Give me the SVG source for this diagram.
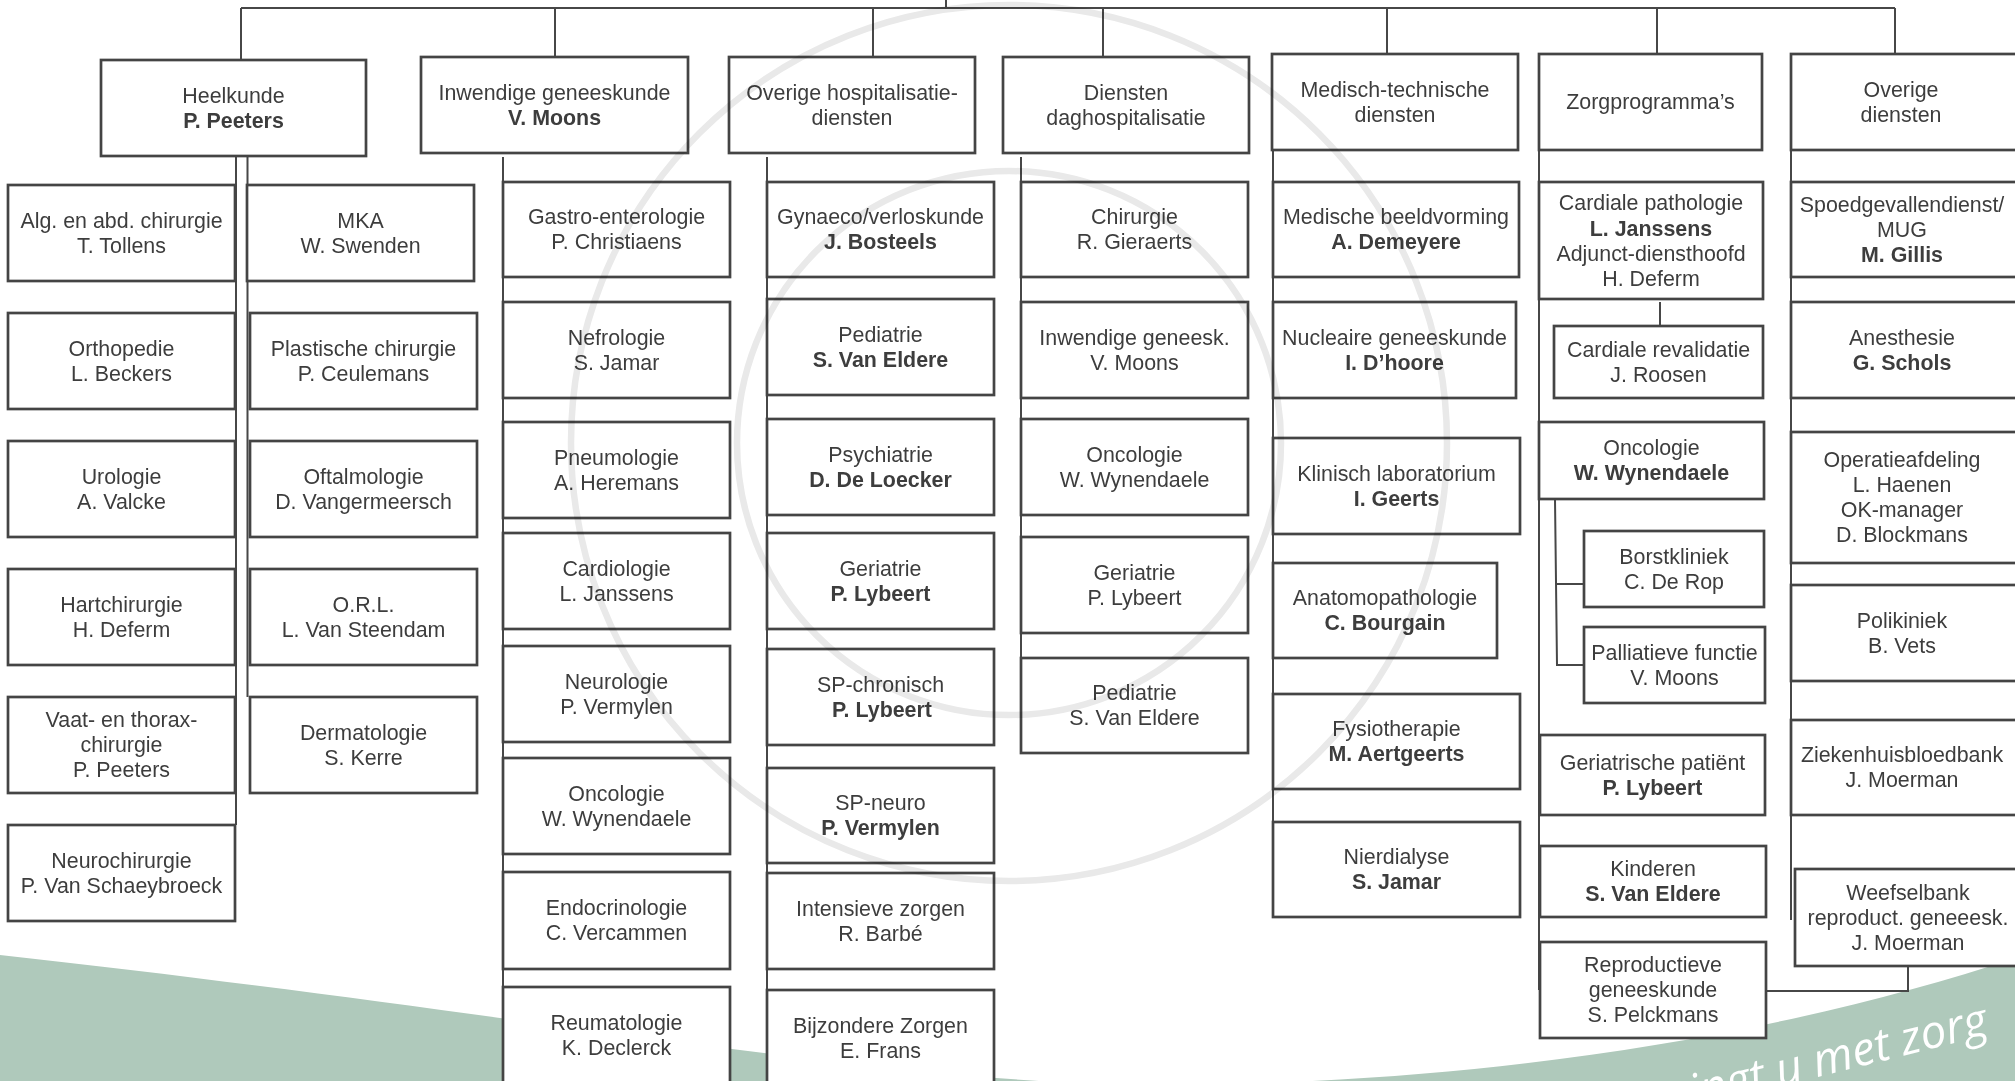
<svg xmlns="http://www.w3.org/2000/svg" width="2015" height="1081" viewBox="0 0 2015 1081">
<style>
.b{fill:#fff;stroke:#444;stroke-width:2.7}
.t{font-family:"Liberation Sans",Arial,sans-serif;font-size:21.4px;fill:#3d3d3d;text-anchor:middle}
.bd{font-weight:bold}
.c{fill:none;stroke:#474747;stroke-width:2}
.wm{fill:none;stroke:#e9e9e9;stroke-width:6.5;mix-blend-mode:multiply}
</style>
<rect x="0" y="0" width="2015" height="1081" fill="#fff"/>
<g id="background">
<path d="M0,955 C500,1010 900,1085 1150,1085 C1500,1085 1800,1030 2015,958 L2015,1081 L0,1081 Z" fill="#afc9bb"/>
<text x="1990" y="1034" transform="rotate(-14 1990 1034)" style="font-family:'Open Sans','Liberation Sans',sans-serif;font-size:46px;font-style:italic;fill:#fff;text-anchor:end">omringt u met zorg</text>
</g>
<g id="connectors">
<path class="c" d="M946,0V8M241,8H1895M241,8V60M555,8V57M873,8V57M1103,8V57M1387,8V54M1657,8V54M1895,8V54"/>
<path class="c" d="M236,156V825M247.5,156V697"/>
<path class="c" d="M503,157V1081M767,157V1081M1021,157V705M1273,150V870M1539,150V990M1791,150V920"/>
<path class="c" d="M1660,302V326M1555,499L1557,665H1584M1556,584H1584M1908,966V991H1766"/>
</g>
<g id="n-heelkunde"><rect class="b" x="101" y="60" width="265" height="96"/><text class="t"><tspan x="233.5" y="102.9">Heelkunde</tspan><tspan class="bd" x="233.5" y="127.9">P. Peeters</tspan></text></g>
<g id="n-inwendige"><rect class="b" x="421" y="57" width="267" height="96"/><text class="t"><tspan x="554.5" y="99.9">Inwendige geneeskunde</tspan><tspan class="bd" x="554.5" y="124.9">V. Moons</tspan></text></g>
<g id="n-overige-hosp"><rect class="b" x="729" y="57" width="246" height="96"/><text class="t"><tspan x="852" y="99.9">Overige hospitalisatie-</tspan><tspan x="852" y="124.9">diensten</tspan></text></g>
<g id="n-dagh"><rect class="b" x="1003" y="57" width="246" height="96"/><text class="t"><tspan x="1126" y="99.9">Diensten</tspan><tspan x="1126" y="124.9">daghospitalisatie</tspan></text></g>
<g id="n-medtech"><rect class="b" x="1272" y="54" width="246" height="96"/><text class="t"><tspan x="1395" y="96.9">Medisch-technische</tspan><tspan x="1395" y="121.9">diensten</tspan></text></g>
<g id="n-zorgprog"><rect class="b" x="1539" y="54" width="223" height="96"/><text class="t" x="1650.5" y="109.4">Zorgprogramma’s</text></g>
<g id="n-overige-d"><rect class="b" x="1791" y="54" width="240" height="96"/><text class="t"><tspan x="1901" y="96.9">Overige</tspan><tspan x="1901" y="121.9">diensten</tspan></text></g>

<g id="n-alg"><rect class="b" x="8" y="185" width="227" height="96"/><text class="t"><tspan x="121.5" y="227.9">Alg. en abd. chirurgie</tspan><tspan x="121.5" y="252.9">T. Tollens</tspan></text></g>
<g id="n-mka"><rect class="b" x="247" y="185" width="227" height="96"/><text class="t"><tspan x="360.5" y="227.9">MKA</tspan><tspan x="360.5" y="252.9">W. Swenden</tspan></text></g>
<g id="n-ortho"><rect class="b" x="8" y="313" width="227" height="96"/><text class="t"><tspan x="121.5" y="355.9">Orthopedie</tspan><tspan x="121.5" y="380.9">L. Beckers</tspan></text></g>
<g id="n-plast"><rect class="b" x="250" y="313" width="227" height="96"/><text class="t"><tspan x="363.5" y="355.9">Plastische chirurgie</tspan><tspan x="363.5" y="380.9">P. Ceulemans</tspan></text></g>
<g id="n-uro"><rect class="b" x="8" y="441" width="227" height="96"/><text class="t"><tspan x="121.5" y="483.9">Urologie</tspan><tspan x="121.5" y="508.9">A. Valcke</tspan></text></g>
<g id="n-oftal"><rect class="b" x="250" y="441" width="227" height="96"/><text class="t"><tspan x="363.5" y="483.9">Oftalmologie</tspan><tspan x="363.5" y="508.9">D. Vangermeersch</tspan></text></g>
<g id="n-hart"><rect class="b" x="8" y="569" width="227" height="96"/><text class="t"><tspan x="121.5" y="611.9">Hartchirurgie</tspan><tspan x="121.5" y="636.9">H. Deferm</tspan></text></g>
<g id="n-orl"><rect class="b" x="250" y="569" width="227" height="96"/><text class="t"><tspan x="363.5" y="611.9">O.R.L.</tspan><tspan x="363.5" y="636.9">L. Van Steendam</tspan></text></g>
<g id="n-vaat"><rect class="b" x="8" y="697" width="227" height="96"/><text class="t"><tspan x="121.5" y="727.4">Vaat- en thorax-</tspan><tspan x="121.5" y="752.4">chirurgie</tspan><tspan x="121.5" y="777.4">P. Peeters</tspan></text></g>
<g id="n-derma"><rect class="b" x="250" y="697" width="227" height="96"/><text class="t"><tspan x="363.5" y="739.9">Dermatologie</tspan><tspan x="363.5" y="764.9">S. Kerre</tspan></text></g>
<g id="n-neurochir"><rect class="b" x="8" y="825" width="227" height="96"/><text class="t"><tspan x="121.5" y="867.9">Neurochirurgie</tspan><tspan x="121.5" y="892.9">P. Van Schaeybroeck</tspan></text></g>

<g id="n-gastro"><rect class="b" x="503" y="182" width="227" height="95"/><text class="t"><tspan x="616.5" y="224.4">Gastro-enterologie</tspan><tspan x="616.5" y="249.4">P. Christiaens</tspan></text></g>
<g id="n-nefro"><rect class="b" x="503" y="302" width="227" height="96"/><text class="t"><tspan x="616.5" y="344.9">Nefrologie</tspan><tspan x="616.5" y="369.9">S. Jamar</tspan></text></g>
<g id="n-pneumo"><rect class="b" x="503" y="422" width="227" height="96"/><text class="t"><tspan x="616.5" y="464.9">Pneumologie</tspan><tspan x="616.5" y="489.9">A. Heremans</tspan></text></g>
<g id="n-cardio"><rect class="b" x="503" y="533" width="227" height="96"/><text class="t"><tspan x="616.5" y="575.9">Cardiologie</tspan><tspan x="616.5" y="600.9">L. Janssens</tspan></text></g>
<g id="n-neuro"><rect class="b" x="503" y="646" width="227" height="96"/><text class="t"><tspan x="616.5" y="688.9">Neurologie</tspan><tspan x="616.5" y="713.9">P. Vermylen</tspan></text></g>
<g id="n-onco1"><rect class="b" x="503" y="758" width="227" height="96"/><text class="t"><tspan x="616.5" y="800.9">Oncologie</tspan><tspan x="616.5" y="825.9">W. Wynendaele</tspan></text></g>
<g id="n-endo"><rect class="b" x="503" y="872" width="227" height="97"/><text class="t"><tspan x="616.5" y="915.4">Endocrinologie</tspan><tspan x="616.5" y="940.4">C. Vercammen</tspan></text></g>
<g id="n-reuma"><rect class="b" x="503" y="987" width="227" height="110"/><text class="t"><tspan x="616.5" y="1029.9">Reumatologie</tspan><tspan x="616.5" y="1054.9">K. Declerck</tspan></text></g>

<g id="n-gynaeco"><rect class="b" x="767" y="182" width="227" height="95"/><text class="t"><tspan x="880.5" y="224.4">Gynaeco/verloskunde</tspan><tspan class="bd" x="880.5" y="249.4">J. Bosteels</tspan></text></g>
<g id="n-pedia1"><rect class="b" x="767" y="299" width="227" height="96"/><text class="t"><tspan x="880.5" y="341.9">Pediatrie</tspan><tspan class="bd" x="880.5" y="366.9">S. Van Eldere</tspan></text></g>
<g id="n-psych"><rect class="b" x="767" y="419" width="227" height="96"/><text class="t"><tspan x="880.5" y="461.9">Psychiatrie</tspan><tspan class="bd" x="880.5" y="486.9">D. De Loecker</tspan></text></g>
<g id="n-geria1"><rect class="b" x="767" y="533" width="227" height="96"/><text class="t"><tspan x="880.5" y="575.9">Geriatrie</tspan><tspan class="bd" x="880.5" y="600.9">P. Lybeert</tspan></text></g>
<g id="n-spchron"><rect class="b" x="767" y="649" width="227" height="96"/><text class="t"><tspan x="880.5" y="691.9">SP-chronisch</tspan><tspan class="bd" x="882" y="716.9">P. Lybeert</tspan></text></g>
<g id="n-spneuro"><rect class="b" x="767" y="768" width="227" height="95"/><text class="t"><tspan x="880.5" y="810.4">SP-neuro</tspan><tspan class="bd" x="880.5" y="835.4">P. Vermylen</tspan></text></g>
<g id="n-iz"><rect class="b" x="767" y="873" width="227" height="96"/><text class="t"><tspan x="880.5" y="915.9">Intensieve zorgen</tspan><tspan x="880.5" y="940.9">R. Barbé</tspan></text></g>
<g id="n-bz"><rect class="b" x="767" y="990" width="227" height="110"/><text class="t"><tspan x="880.5" y="1032.9">Bijzondere Zorgen</tspan><tspan x="880.5" y="1057.9">E. Frans</tspan></text></g>

<g id="n-chir"><rect class="b" x="1021" y="182" width="227" height="95"/><text class="t"><tspan x="1134.5" y="224.4">Chirurgie</tspan><tspan x="1134.5" y="249.4">R. Gieraerts</tspan></text></g>
<g id="n-inw2"><rect class="b" x="1021" y="302" width="227" height="96"/><text class="t"><tspan x="1134.5" y="344.9">Inwendige geneesk.</tspan><tspan x="1134.5" y="369.9">V. Moons</tspan></text></g>
<g id="n-onco2"><rect class="b" x="1021" y="419" width="227" height="96"/><text class="t"><tspan x="1134.5" y="461.9">Oncologie</tspan><tspan x="1134.5" y="486.9">W. Wynendaele</tspan></text></g>
<g id="n-geria2"><rect class="b" x="1021" y="537" width="227" height="96"/><text class="t"><tspan x="1134.5" y="579.9">Geriatrie</tspan><tspan x="1134.5" y="604.9">P. Lybeert</tspan></text></g>
<g id="n-pedia2"><rect class="b" x="1021" y="658" width="227" height="95"/><text class="t"><tspan x="1134.5" y="700.4">Pediatrie</tspan><tspan x="1134.5" y="725.4">S. Van Eldere</tspan></text></g>

<g id="n-beeld"><rect class="b" x="1273" y="182" width="246" height="95"/><text class="t"><tspan x="1396" y="224.4">Medische beeldvorming</tspan><tspan class="bd" x="1396" y="249.4">A. Demeyere</tspan></text></g>
<g id="n-nucl"><rect class="b" x="1273" y="302" width="243" height="96"/><text class="t"><tspan x="1394.5" y="344.9">Nucleaire geneeskunde</tspan><tspan class="bd" x="1394.5" y="369.9">I. D’hoore</tspan></text></g>
<g id="n-lab"><rect class="b" x="1273" y="438" width="247" height="96"/><text class="t"><tspan x="1396.5" y="480.9">Klinisch laboratorium</tspan><tspan class="bd" x="1396.5" y="505.9">I. Geerts</tspan></text></g>
<g id="n-anapath"><rect class="b" x="1273" y="563" width="224" height="95"/><text class="t"><tspan x="1385" y="605.4">Anatomopathologie</tspan><tspan class="bd" x="1385" y="630.4">C. Bourgain</tspan></text></g>
<g id="n-fysio"><rect class="b" x="1273" y="694" width="247" height="95"/><text class="t"><tspan x="1396.5" y="736.4">Fysiotherapie</tspan><tspan class="bd" x="1396.5" y="761.4">M. Aertgeerts</tspan></text></g>
<g id="n-nier"><rect class="b" x="1273" y="822" width="247" height="95"/><text class="t"><tspan x="1396.5" y="864.4">Nierdialyse</tspan><tspan class="bd" x="1396.5" y="889.4">S. Jamar</tspan></text></g>

<g id="n-cardpath"><rect class="b" x="1539" y="182" width="224" height="117"/><text class="t"><tspan x="1651" y="210.4">Cardiale pathologie</tspan><tspan class="bd" x="1651" y="235.6">L. Janssens</tspan><tspan x="1651" y="260.8">Adjunct-diensthoofd</tspan><tspan x="1651" y="286">H. Deferm</tspan></text></g>
<g id="n-cardrev"><rect class="b" x="1554" y="326" width="209" height="72"/><text class="t"><tspan x="1658.5" y="356.9">Cardiale revalidatie</tspan><tspan x="1658.5" y="381.9">J. Roosen</tspan></text></g>
<g id="n-onco3"><rect class="b" x="1539" y="422" width="225" height="77"/><text class="t"><tspan x="1651.5" y="455.4">Oncologie</tspan><tspan class="bd" x="1651.5" y="480.4">W. Wynendaele</tspan></text></g>
<g id="n-borst"><rect class="b" x="1584" y="531" width="180" height="76"/><text class="t"><tspan x="1674" y="563.9">Borstkliniek</tspan><tspan x="1674" y="588.9">C. De Rop</tspan></text></g>
<g id="n-pall"><rect class="b" x="1584" y="627" width="181" height="76"/><text class="t"><tspan x="1674.5" y="659.9">Palliatieve functie</tspan><tspan x="1674.5" y="684.9">V. Moons</tspan></text></g>
<g id="n-geripat"><rect class="b" x="1540" y="735" width="225" height="80"/><text class="t"><tspan x="1652.5" y="769.9">Geriatrische patiënt</tspan><tspan class="bd" x="1652.5" y="794.9">P. Lybeert</tspan></text></g>
<g id="n-kind"><rect class="b" x="1540" y="846" width="226" height="71"/><text class="t"><tspan x="1653" y="876.4">Kinderen</tspan><tspan class="bd" x="1653" y="901.4">S. Van Eldere</tspan></text></g>
<g id="n-repro"><rect class="b" x="1540" y="942" width="226" height="96"/><text class="t"><tspan x="1653" y="972.4">Reproductieve</tspan><tspan x="1653" y="997.4">geneeskunde</tspan><tspan x="1653" y="1022.4">S. Pelckmans</tspan></text></g>

<g id="n-spoed"><rect class="b" x="1791" y="182" width="240" height="95"/><text class="t"><tspan x="1902" y="211.9">Spoedgevallendienst/</tspan><tspan x="1902" y="236.9">MUG</tspan><tspan class="bd" x="1902" y="261.9">M. Gillis</tspan></text></g>
<g id="n-anest"><rect class="b" x="1791" y="302" width="240" height="96"/><text class="t"><tspan x="1902" y="344.9">Anesthesie</tspan><tspan class="bd" x="1902" y="369.9">G. Schols</tspan></text></g>
<g id="n-ok"><rect class="b" x="1791" y="432" width="240" height="131"/><text class="t"><tspan x="1902" y="467.4">Operatieafdeling</tspan><tspan x="1902" y="492.4">L. Haenen</tspan><tspan x="1902" y="517.4">OK-manager</tspan><tspan x="1902" y="542.4">D. Blockmans</tspan></text></g>
<g id="n-poli"><rect class="b" x="1791" y="585" width="240" height="96"/><text class="t"><tspan x="1902" y="627.9">Polikiniek</tspan><tspan x="1902" y="652.9">B. Vets</tspan></text></g>
<g id="n-bloed"><rect class="b" x="1791" y="720" width="240" height="95"/><text class="t"><tspan x="1902" y="762.4">Ziekenhuisbloedbank</tspan><tspan x="1902" y="787.4">J. Moerman</tspan></text></g>
<g id="n-weefsel"><rect class="b" x="1795" y="869" width="236" height="97"/><text class="t"><tspan x="1908" y="899.9">Weefselbank</tspan><tspan x="1908" y="924.9">reproduct. geneeesk.</tspan><tspan x="1908" y="949.9">J. Moerman</tspan></text></g>

<g id="watermark">
<circle class="wm" cx="1009" cy="443" r="438"/>
<circle class="wm" cx="1009" cy="443" r="272"/>
</g>
</svg>
